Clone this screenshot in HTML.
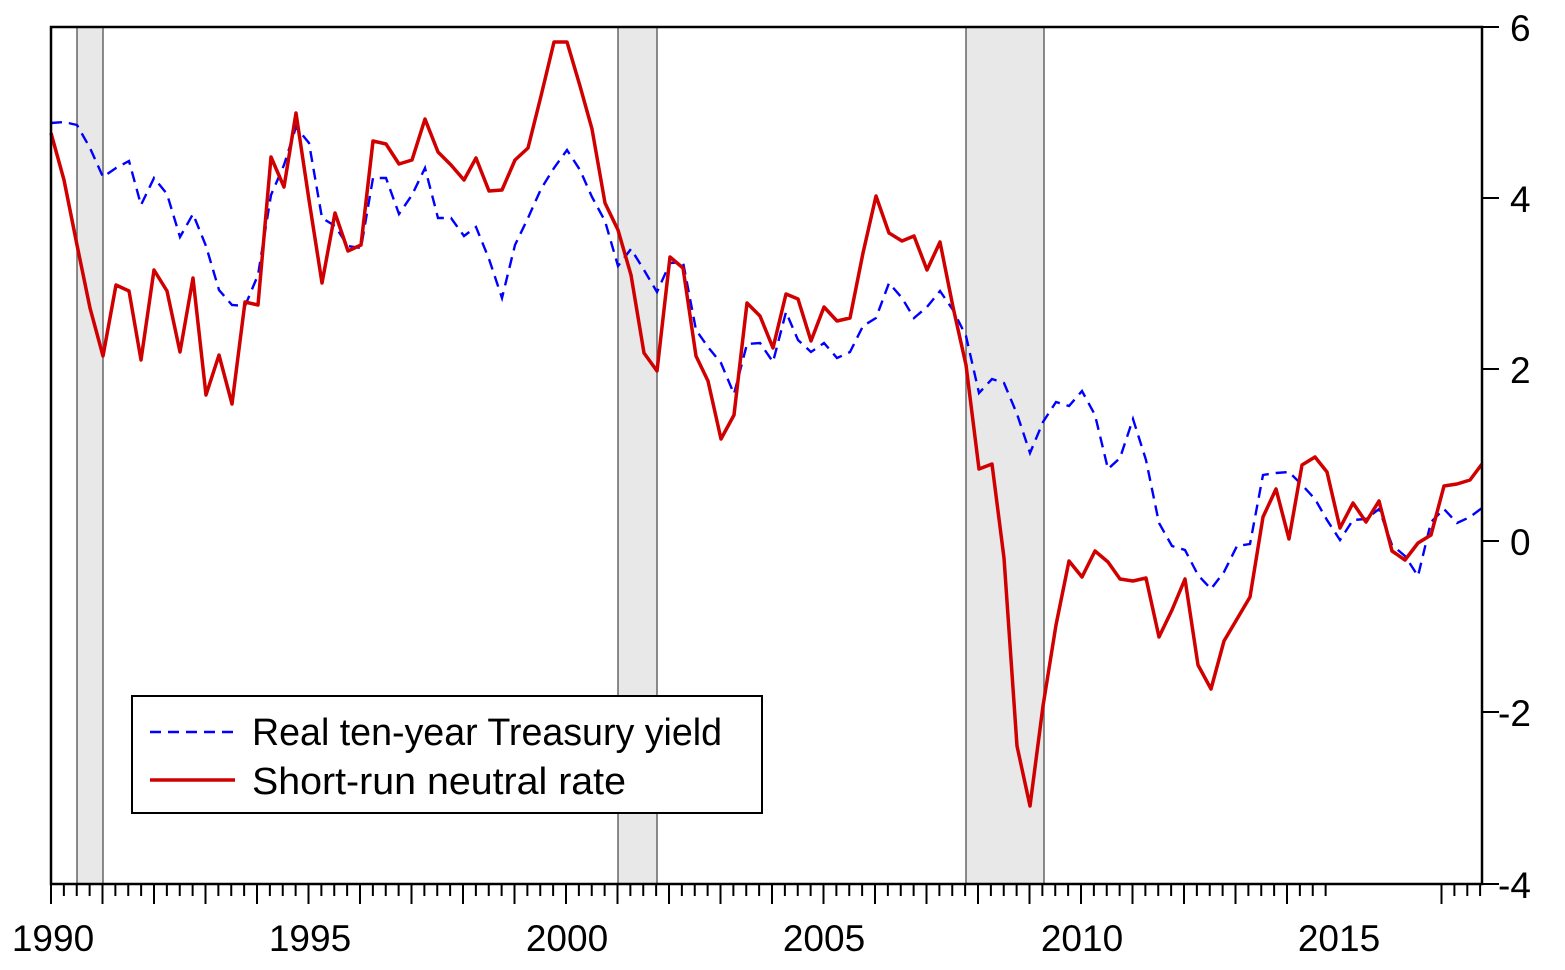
<!DOCTYPE html>
<html><head><meta charset="utf-8"><style>html,body{margin:0;padding:0;background:#fff}svg{display:block}</style></head>
<body>
<svg width="1565" height="970" viewBox="0 0 1565 970" xmlns="http://www.w3.org/2000/svg">
<rect width="1565" height="970" fill="#fff"/>
<g fill="#e8e8e8" stroke="#666" stroke-width="1.5">
<rect x="77" y="27" width="26" height="857"/>
<rect x="618" y="27" width="39" height="857"/>
<rect x="966" y="27" width="78" height="857"/>
</g>
<polyline fill="none" stroke="#0000ff" stroke-width="2.4" stroke-dasharray="11,7" points="51,123 64,122 77,125 90,148 103,177 116,168 129,161 141,205 154,178 167,194 180,237 193,214 206,246 219,290 232,305 245,306 258,275 271,195 284,165 296,127 309,143 322,218 335,226 348,246 361,248 373,178 386,178 399,214 412,195 425,168 438,218 451,218 464,236 476,227 489,259 502,298 515,245 528,218 541,189 554,168 567,150 580,170 592,197 605,221 618,266 631,249 644,270 657,292 670,263 683,262 696,330 708,347 721,363 734,394 747,344 760,343 773,362 786,312 798,340 811,352 824,343 837,358 850,352 863,326 876,318 889,283 902,298 914,318 927,307 940,291 953,310 966,336 979,393 992,379 1004,383 1017,414 1030,453 1043,422 1056,402 1069,406 1082,391 1095,415 1108,469 1120,458 1133,419 1146,460 1159,523 1172,546 1185,550 1198,575 1211,589 1224,572 1237,546 1250,544 1263,475 1276,473 1289,472 1302,485 1315,499 1327,520 1340,540 1353,520 1366,519 1379,509 1392,545 1405,556 1418,576 1431,522 1444,509 1457,523 1470,517 1482,508"/>
<polyline fill="none" stroke="#d00000" stroke-width="3.5" stroke-linejoin="round" points="51,133 64,180 77,245 90,308 103,356 116,285 129,291 141,360 154,270 167,291 180,352 193,278 206,395 219,355 232,404 245,302 258,305 271,157 284,187 296,113 309,200 322,283 335,213 348,251 361,245 373,141 386,144 399,164 412,160 425,119 438,152 451,165 464,180 476,158 489,191 502,190 515,160 528,148 541,96 554,42 567,42 580,86 592,129 605,203 618,230 631,275 644,353 657,371 670,257 683,268 696,356 708,381 721,439 734,415 747,303 760,316 773,348 786,294 798,299 811,341 824,307 837,321 850,318 863,253 876,196 889,233 902,241 914,236 927,270 940,242 953,307 966,365 979,469 992,464 1004,558 1017,746 1030,806 1043,706 1056,625 1069,561 1082,577 1095,551 1108,562 1120,579 1133,581 1146,578 1159,637 1172,610 1185,579 1198,665 1211,689 1224,641 1237,619 1250,597 1263,517 1276,489 1289,539 1302,465 1315,457 1327,472 1340,528 1353,503 1366,522 1379,501 1392,551 1405,560 1418,543 1431,535 1444,486 1457,484 1470,480 1482,464"/>
<rect x="51" y="27" width="1431" height="857" fill="none" stroke="#000" stroke-width="2.5"/>
<path fill="none" stroke="#000" stroke-width="2" d="M51,884 v20 m12.875,-20 v12 m12.875,-12 v12 m12.875,-12 v12 m12.875,-12 v20 m12.875,-20 v12 m12.875,-12 v12 m12.875,-12 v12 m12.875,-12 v20 m12.875,-20 v12 m12.875,-12 v12 m12.875,-12 v12 m12.875,-12 v20 m12.875,-20 v12 m12.875,-12 v12 m12.875,-12 v12 m12.875,-12 v20 m12.875,-20 v12 m12.875,-12 v12 m12.875,-12 v12 m12.875,-12 v20 m12.875,-20 v12 m12.875,-12 v12 m12.875,-12 v12 m12.875,-12 v20 m12.875,-20 v12 m12.875,-12 v12 m12.875,-12 v12 m12.875,-12 v20 m12.875,-20 v12 m12.875,-12 v12 m12.875,-12 v12 m12.875,-12 v20 m12.875,-20 v12 m12.875,-12 v12 m12.875,-12 v12 m12.875,-12 v20 m12.875,-20 v12 m12.875,-12 v12 m12.875,-12 v12 m12.875,-12 v20 m12.875,-20 v12 m12.875,-12 v12 m12.875,-12 v12 m12.875,-12 v20 m12.875,-20 v12 m12.875,-12 v12 m12.875,-12 v12 m12.875,-12 v20 m12.875,-20 v12 m12.875,-12 v12 m12.875,-12 v12 m12.875,-12 v20 m12.875,-20 v12 m12.875,-12 v12 m12.875,-12 v12 m12.875,-12 v20 m12.875,-20 v12 m12.875,-12 v12 m12.875,-12 v12 m12.875,-12 v20 m12.875,-20 v12 m12.875,-12 v12 m12.875,-12 v12 m12.875,-12 v20 m12.875,-20 v12 m12.875,-12 v12 m12.875,-12 v12 m12.875,-12 v20 m12.875,-20 v12 m12.875,-12 v12 m12.875,-12 v12 m12.875,-12 v20 m12.875,-20 v12 m12.875,-12 v12 m12.875,-12 v12 m12.875,-12 v20 m12.875,-20 v12 m12.875,-12 v12 m12.875,-12 v12 m12.875,-12 v20 m12.875,-20 v12 m12.875,-12 v12 m12.875,-12 v12 m12.875,-12 v20 m12.875,-20 v12 m12.875,-12 v12 m12.875,-12 v12 m12.875,-12 v20 m12.875,-20 v12 m12.875,-12 v12 m12.875,-12 v12 m12.875,-12 v20 m12.875,-20 v12 m12.875,-12 v12 m12.875,-12 v12 m12.875,-12 v20 m12.875,-20 v12 m12.875,-12 v12 m12.875,-12 v12 M1441.5,884 v20 M1454.4,884 v12 M1467.3,884 v12 M1480.1,884 v12"/>
<g stroke="#000" stroke-width="2">
<line x1="1482" y1="27" x2="1499" y2="27"/><line x1="1482" y1="198" x2="1499" y2="198"/><line x1="1482" y1="369" x2="1499" y2="369"/><line x1="1482" y1="541" x2="1499" y2="541"/><line x1="1482" y1="712" x2="1499" y2="712"/><line x1="1482" y1="884" x2="1499" y2="884"/>
</g>
<g font-family="Liberation Sans, Arial, sans-serif" font-size="37" fill="#000">
<text x="1510" y="41">6</text><text x="1510" y="212">4</text><text x="1510" y="383">2</text><text x="1510" y="555">0</text><text x="1498" y="726">-2</text><text x="1498" y="898">-4</text>
<g text-anchor="middle"><text x="53" y="951">1990</text><text x="310" y="951">1995</text><text x="567" y="951">2000</text><text x="824" y="951">2005</text><text x="1082" y="951">2010</text><text x="1339" y="951">2015</text></g>
</g>
<rect x="132" y="696" width="630" height="117" fill="#fff" stroke="#000" stroke-width="2"/>
<line x1="150" y1="732" x2="235" y2="732" stroke="#0000ff" stroke-width="2.4" stroke-dasharray="11,7"/>
<line x1="150" y1="780" x2="235" y2="780" stroke="#d00000" stroke-width="3.5"/>
<g font-family="Liberation Sans Narrow, Liberation Sans, sans-serif" font-size="38" fill="#000">
<text x="252" y="745" textLength="470" lengthAdjust="spacingAndGlyphs">Real ten-year Treasury yield</text>
<text x="252" y="794" textLength="374" lengthAdjust="spacingAndGlyphs">Short-run neutral rate</text>
</g>
</svg>
</body></html>
